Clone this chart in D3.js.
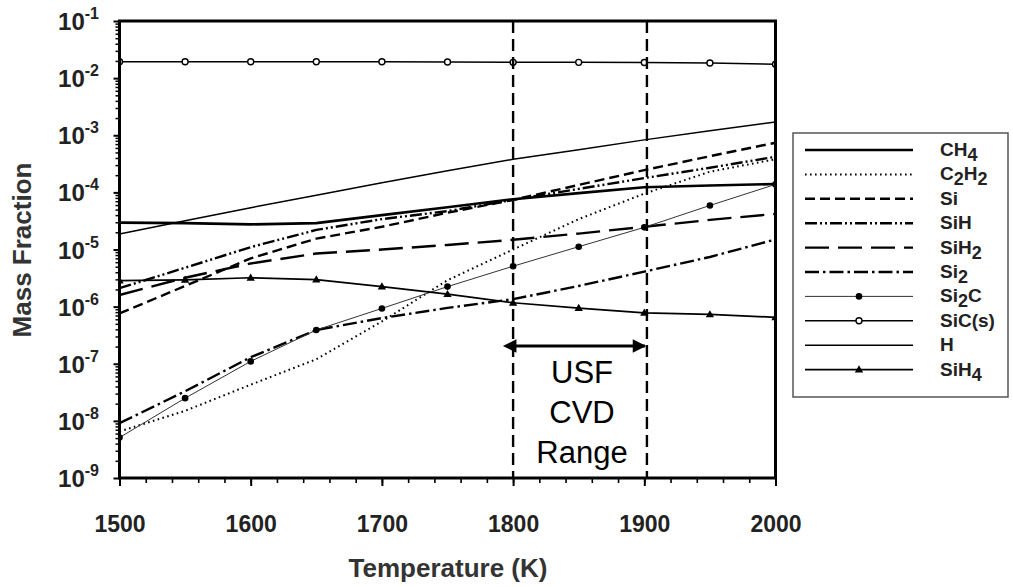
<!DOCTYPE html>
<html><head><meta charset="utf-8">
<script src="https://cdn.jsdelivr.net/npm/d3@7"></script>
<style>
body{margin:0;background:#fff;}
text{font-family:"Liberation Sans",Arial,sans-serif;}
</style></head>
<body><svg id="c" width="1013" height="587"></svg>
<script>
const temps = [1500,1550,1600,1650,1700,1750,1800,1850,1900,1950,2000];
const CH4  = [2.95e-5,2.9e-5,2.75e-5,2.9e-5,4.0e-5,5.5e-5,7.6e-5,9.7e-5,1.23e-4,1.32e-4,1.4e-4];
const C2H2 = [6.5e-9,1.5e-8,4.3e-8,1.2e-7,5.5e-7,2.9e-6,1.0e-5,3.4e-5,9.5e-5,2.3e-4,3.8e-4];
const Si   = [7.6e-7,2.3e-6,7.0e-6,1.55e-5,2.5e-5,4.4e-5,7.4e-5,1.35e-4,2.45e-4,4.3e-4,7.4e-4];
const SiH  = [2.1e-6,4.8e-6,1.1e-5,2.2e-5,3.4e-5,4.7e-5,7.4e-5,1.15e-4,1.78e-4,2.7e-4,4.2e-4];
const SiH2 = [1.6e-6,3.2e-6,5.7e-6,8.5e-6,1.0e-5,1.2e-5,1.48e-5,1.9e-5,2.5e-5,3.3e-5,4.2e-5];
const Si2  = [9.1e-9,3.3e-8,1.3e-7,3.9e-7,6.3e-7,9.5e-7,1.35e-6,2.3e-6,4.1e-6,7.4e-6,1.5e-5];
const Si2C = [5.1e-9,2.5e-8,1.1e-7,3.9e-7,9.3e-7,2.24e-6,5.1e-6,1.12e-5,2.44e-5,5.9e-5,1.38e-4];
const SiCs = [1.94e-2,1.94e-2,1.94e-2,1.94e-2,1.93e-2,1.92e-2,1.89e-2,1.89e-2,1.88e-2,1.84e-2,1.75e-2];
const H    = [1.86e-5,3.2e-5,5.4e-5,8.9e-5,1.48e-4,2.4e-4,3.8e-4,5.6e-4,8.3e-4,1.2e-3,1.7e-3];
const SiH4 = [2.85e-6,2.95e-6,3.2e-6,2.97e-6,2.24e-6,1.65e-6,1.17e-6,9.4e-7,7.8e-7,7.3e-7,6.5e-7];

const seriesNames = [["CH","4"],["C","2","H","2"],["Si"],["SiH"],["SiH","2"],["Si","2"],["Si","2","C"],["SiC(s)"],["H"],["SiH","4"]];
const rangeLines = [1800,1902];
const rangeText = ["USF","CVD","Range"];
const xTicks = [1500,1600,1700,1800,1900,2000];
const yExps = [-9,-8,-7,-6,-5,-4,-3,-2,-1];

const svg = d3.select("#c");
const L=119.5,R=775.5,T=21,B=478;
const x = d3.scaleLinear().domain([1500,2000]).range([L,R]);
const y = d3.scaleLog().domain([1e-9,1e-1]).range([B,T]);

const styles = [
 {data:CH4, w:2.6, dash:null, color:"#000"},
 {data:C2H2,w:2, dash:"1.6,3.4", color:"#000", cap:"butt"},
 {data:Si,  w:2.4, dash:"10,5", color:"#000"},
 {data:SiH, w:2.4, dash:"12,3,2,3,2,3", color:"#000"},
 {data:SiH2,w:2.4, dash:"24,9", color:"#000"},
 {data:Si2, w:2.4, dash:"14,4,2.5,4", color:"#000"},
 {data:Si2C,w:1, dash:null, color:"#333", marker:"fcircle"},
 {data:SiCs,w:1.5, dash:null, color:"#000", marker:"ocircle"},
 {data:H,   w:1.5, dash:null, color:"#000"},
 {data:SiH4,w:1.7, dash:null, color:"#000", marker:"tri"},
];

svg.append("defs").append("clipPath").attr("id","clip").append("rect")
  .attr("x",L).attr("y",T).attr("width",R-L).attr("height",B-T);

const g = svg.append("g").attr("clip-path","url(#clip)");
const line = d3.line().x((d,i)=>x(temps[i])).y(d=>y(d));

function drawMarker(sel, type, cx, cy){
  if(type==="fcircle") sel.append("circle").attr("cx",cx).attr("cy",cy).attr("r",3.3).attr("fill","#000");
  else if(type==="ocircle") sel.append("circle").attr("cx",cx).attr("cy",cy).attr("r",3).attr("fill","#fff").attr("stroke","#000").attr("stroke-width",1.4);
  else if(type==="tri") sel.append("path").attr("d",d3.symbol(d3.symbolTriangle,30)()).attr("transform",`translate(${cx},${cy+0.5})`).attr("fill","#000");
}

rangeLines.forEach(t=>{
  svg.append("line").attr("x1",x(t)).attr("x2",x(t)).attr("y1",T).attr("y2",B)
   .attr("stroke","#000").attr("stroke-width",2.4).attr("stroke-dasharray","12,6");
});

styles.forEach(s=>{
  g.append("path").attr("d",line(s.data)).attr("fill","none").attr("stroke",s.color)
   .attr("stroke-width",s.w).attr("stroke-dasharray",s.dash).attr("stroke-linecap",s.cap||"butt");
  if(s.marker){ s.data.forEach((v,i)=>drawMarker(g,s.marker,x(temps[i]),y(v))); }
});

const defs = svg.select("defs");
["s","e"].forEach(k=>{
  defs.append("marker").attr("id","ar"+k).attr("viewBox","0 0 10 10").attr("refX",k==="e"?9:1).attr("refY",5)
   .attr("markerWidth",5).attr("markerHeight",4.5).attr("markerUnits","strokeWidth").attr("orient","auto-start-reverse")
   .append("path").attr("d","M0,0L10,5L0,10z").attr("fill","#000");
});
svg.append("line").attr("x1",x(rangeLines[0])+2).attr("x2",x(rangeLines[1])-2).attr("y1",346).attr("y2",346)
  .attr("stroke","#000").attr("stroke-width",3).attr("marker-start","url(#ars)").attr("marker-end","url(#are)");
const cxR = (x(rangeLines[0])+x(rangeLines[1]))/2+2;
rangeText.forEach((t,i)=>{
  svg.append("text").attr("x",cxR).attr("y",383+i*40).attr("text-anchor","middle").attr("font-size",31).text(t);
});

const yMinor=[]; yExps.slice(0,-1).forEach(e=>{for(let k=2;k<=9;k++) yMinor.push(k*Math.pow(10,e));});
svg.append("g").attr("transform",`translate(${L},0)`).call(d3.axisLeft(y).tickValues(yMinor).tickSize(4).tickFormat(""))
  .call(a=>{a.select(".domain").remove(); a.selectAll("line").attr("stroke-width",1.5);});
const ya = svg.append("g").attr("transform",`translate(${L},0)`).call(d3.axisLeft(y).tickValues(yExps.map(e=>Math.pow(10,e))).tickSize(6).tickFormat(""));
ya.select(".domain").remove(); ya.selectAll("line").attr("stroke-width",2);
yExps.forEach(e=>{
  const t = svg.append("text").attr("x",99).attr("y",y(Math.pow(10,e))+9).attr("text-anchor","end")
   .attr("font-weight","bold").attr("font-size",24).attr("fill","#222");
  t.append("tspan").text("10");
  t.append("tspan").attr("dy",-11).attr("font-size",16).text(String(e));
});
const xMinor=d3.range(1500,2001,20);
svg.append("g").attr("transform",`translate(0,${B})`).call(d3.axisBottom(x).tickValues(xMinor).tickSize(5).tickFormat(""))
  .call(a=>{a.select(".domain").remove(); a.selectAll("line").attr("stroke-width",1.6);});
const xa = svg.append("g").attr("transform",`translate(0,${B})`).call(d3.axisBottom(x).tickValues(xTicks).tickSize(8).tickFormat(d3.format("d")));
xa.select(".domain").remove(); xa.selectAll("line").attr("stroke-width",2);
xa.selectAll("text").attr("font-size",23).attr("font-weight","bold").attr("fill","#222").attr("dy",0).attr("y",54)
  .attr("font-family","Liberation Sans, Arial, sans-serif");

svg.append("rect").attr("x",L).attr("y",T).attr("width",R-L).attr("height",B-T).attr("fill","none").attr("stroke","#000").attr("stroke-width",3);

svg.append("text").attr("x",448).attr("y",577).attr("text-anchor","middle").attr("font-weight","bold").attr("font-size",26).attr("fill","#333").text("Temperature (K)");
svg.append("text").attr("transform","translate(31,250) rotate(-90)").attr("text-anchor","middle").attr("font-weight","bold").attr("font-size",26).attr("fill","#333").text("Mass Fraction");

const lg = svg.append("g");
lg.append("rect").attr("x",793).attr("y",133).attr("width",215).attr("height",264).attr("fill","#fff").attr("stroke","#555").attr("stroke-width",1.5);
styles.forEach((s,i)=>{
  const ly = 150 + i*24.4;
  lg.append("line").attr("x1",805).attr("x2",913).attr("y1",ly).attr("y2",ly).attr("stroke",s.color)
    .attr("stroke-width",s.w).attr("stroke-dasharray",s.dash);
  if(s.marker) drawMarker(lg,s.marker,859,ly);
  const t = lg.append("text").attr("x",940).attr("y",ly+6).attr("font-size",19).attr("font-weight","bold").attr("fill","#222");
  const parts = seriesNames[i];
  parts.forEach((p,j)=>{
    const isSub = /^[0-9]$/.test(p);
    const tsp = t.append("tspan").text(p);
    if(isSub){ tsp.attr("font-size",18).attr("dy",5); }
    else if(j>0 && /^[0-9]$/.test(parts[j-1])) tsp.attr("dy",-5);
  });
});
</script></body></html>
